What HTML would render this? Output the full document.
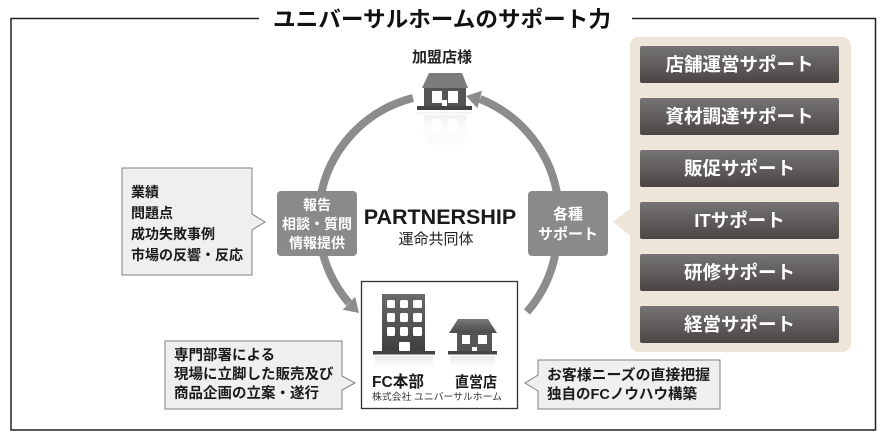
<!DOCTYPE html>
<html><head><meta charset="utf-8">
<style>
html,body{margin:0;padding:0;background:#fff;}
svg{display:block;}
text{font-family:"Liberation Sans","Noto Sans CJK JP",sans-serif;}
</style></head>
<body>
<svg width="883" height="439" viewBox="0 0 883 439" xmlns="http://www.w3.org/2000/svg">
<defs>
  <linearGradient id="btn" x1="0" y1="0" x2="0" y2="1">
    <stop offset="0" stop-color="#767474"/>
    <stop offset="1" stop-color="#4a4644"/>
  </linearGradient>
  <linearGradient id="bld" x1="0" y1="0" x2="0" y2="1">
    <stop offset="0" stop-color="#6a6a6a"/>
    <stop offset="1" stop-color="#3e3e3e"/>
  </linearGradient>
  <linearGradient id="hs" x1="0" y1="0" x2="0" y2="1">
    <stop offset="0" stop-color="#7a7a7a"/>
    <stop offset="1" stop-color="#4a4a4a"/>
  </linearGradient>
  <linearGradient id="refl" x1="0" y1="0" x2="0" y2="1">
    <stop offset="0" stop-color="#d8d8d8"/>
    <stop offset="1" stop-color="#ffffff"/>
  </linearGradient>
</defs>

<!-- frame -->
<path d="M259,18.5 H11 V430 H875.5 V18.5 H632" fill="none" stroke="#222" stroke-width="1.5"/>
<text x="442" y="27" font-size="22" font-weight="700" text-anchor="middle" fill="#111" textLength="338" lengthAdjust="spacingAndGlyphs">ユニバーサルホームのサポート力</text>

<!-- right panel -->
<rect x="630" y="37" width="221" height="315" rx="9" fill="#ece5d8"/>
<polygon points="613,222 632,207 632,237" fill="#ece5d8"/>
<g font-size="18.5" font-weight="700" fill="#fff" text-anchor="middle">
  <rect x="640" y="46" width="199" height="37" rx="2" fill="url(#btn)"/>
  <text x="739.5" y="71" textLength="148" lengthAdjust="spacingAndGlyphs">店舗運営サポート</text>
  <rect x="640" y="98" width="199" height="37" rx="2" fill="url(#btn)"/>
  <text x="739.5" y="123" textLength="148" lengthAdjust="spacingAndGlyphs">資材調達サポート</text>
  <rect x="640" y="150" width="199" height="37" rx="2" fill="url(#btn)"/>
  <text x="739.5" y="175">販促サポート</text>
  <rect x="640" y="202" width="199" height="37" rx="2" fill="url(#btn)"/>
  <text x="739.5" y="227">ITサポート</text>
  <rect x="640" y="254" width="199" height="37" rx="2" fill="url(#btn)"/>
  <text x="739.5" y="279">研修サポート</text>
  <rect x="640" y="306" width="199" height="37" rx="2" fill="url(#btn)"/>
  <text x="739.5" y="331">経営サポート</text>
</g>

<!-- arcs -->
<g fill="none" stroke="#8c8c8c" stroke-width="8">
  <path d="M320,200 A125,125 0 0 1 413,98"/>
  <path d="M558,200 A125,125 0 0 0 480,99"/>
  <path d="M322,250 A125,125 0 0 0 349,303"/>
  <path d="M556,250 A125,125 0 0 1 527,312"/>
</g>
<polygon points="466,96 482,90.7 477.4,108.1" fill="#8c8c8c"/>
<polygon points="359,313 355.2,296.8 342.8,309.8" fill="#8c8c8c"/>

<!-- top house (加盟店様) -->
<text x="442" y="62" font-size="15" font-weight="700" text-anchor="middle" fill="#222">加盟店様</text>
<g>
  <polygon points="429,73 462,73 468,88 422,88" fill="#7c7c7c"/>
  <rect x="424" y="88" width="42" height="19" fill="#555"/>
  <rect x="432" y="91" width="10" height="12" fill="#fff"/>
  <rect x="448" y="91" width="10" height="12" fill="#fff"/>
  <rect x="442" y="100" width="5" height="6" fill="#fff"/>
  <rect x="417" y="106" width="55" height="4" fill="#444"/>
</g>
<g opacity="0.35">
  <rect x="417" y="112" width="55" height="3" fill="url(#refl)"/>
  <rect x="424" y="115" width="42" height="18" fill="url(#refl)"/>
  <polygon points="422,133 468,133 462,145 429,145" fill="#f4f4f4"/>
</g>
<g fill="#fff"><rect x="432" y="119" width="10" height="11" opacity="0.8"/><rect x="448" y="119" width="10" height="11" opacity="0.8"/></g>

<!-- 報告 box -->
<rect x="277" y="191" width="80" height="65" rx="4" fill="#8a8a8a"/>
<g font-size="14" font-weight="700" fill="#fff" text-anchor="middle">
  <text x="317" y="210">報告</text>
  <text x="317" y="229">相談・質問</text>
  <text x="317" y="248">情報提供</text>
</g>

<!-- 各種 box -->
<rect x="528" y="191" width="80" height="65" rx="4" fill="#8a8a8a"/>
<g font-size="15" font-weight="700" fill="#fff" text-anchor="middle">
  <text x="568" y="219">各種</text>
  <text x="568" y="239">サポート</text>
</g>

<!-- center -->
<text x="440" y="224" font-size="21.5" font-weight="700" text-anchor="middle" fill="#1a1a1a">PARTNERSHIP</text>
<text x="436" y="244" font-size="15" text-anchor="middle" fill="#222">運命共同体</text>

<!-- left callout -->
<path d="M122,168 H252 V214 L265,222 L252,230 V275 H122 Z" fill="#efefef" stroke="#808080" stroke-width="1"/>
<g font-size="14" font-weight="700" fill="#1a1a1a">
  <text x="131" y="197">業績</text>
  <text x="131" y="218">問題点</text>
  <text x="131" y="239">成功失敗事例</text>
  <text x="131" y="260">市場の反響・反応</text>
</g>

<!-- FC box -->
<rect x="361.5" y="281.5" width="156" height="127" fill="#fff" stroke="#333" stroke-width="1.3"/>
<g>
  <rect x="382" y="294" width="43" height="58" fill="url(#bld)"/>
  <g fill="#fff">
    <rect x="387" y="300" width="8" height="8" rx="1.5"/><rect x="400" y="300" width="8" height="8" rx="1.5"/><rect x="413" y="300" width="9" height="8" rx="1.5"/>
    <rect x="387" y="313" width="8" height="9" rx="1.5"/><rect x="400" y="313" width="8" height="9" rx="1.5"/><rect x="413" y="313" width="9" height="9" rx="1.5"/>
    <rect x="387" y="327" width="8" height="9" rx="1.5"/><rect x="400" y="327" width="8" height="9" rx="1.5"/><rect x="413" y="327" width="9" height="9" rx="1.5"/>
    <rect x="399" y="342" width="11" height="9" rx="1"/>
  </g>
  <rect x="373" y="351" width="62" height="3.5" fill="#444"/>
  <rect x="375" y="356" width="58" height="10" fill="url(#refl)" opacity="0.6"/>

  <polygon points="458,319 488,319 497,333 449,333" fill="url(#hs)"/>
  <rect x="457" y="333" width="35" height="18" fill="#555"/>
  <rect x="462" y="335" width="8" height="9" fill="#fff"/>
  <rect x="478" y="335" width="9" height="9" fill="#fff"/>
  <rect x="472" y="347" width="5" height="5" fill="#fff"/>
  <rect x="448" y="351" width="49" height="3.5" fill="#444"/>
  <rect x="450" y="356" width="45" height="10" fill="url(#refl)" opacity="0.6"/>
</g>
<text x="372" y="387" font-size="16" font-weight="700" fill="#1a1a1a" textLength="52" lengthAdjust="spacingAndGlyphs">FC本部</text>
<text x="455" y="387" font-size="15" font-weight="700" fill="#1a1a1a" textLength="42" lengthAdjust="spacingAndGlyphs">直営店</text>
<text x="372" y="400" font-size="9.5" fill="#333" textLength="130" lengthAdjust="spacingAndGlyphs">株式会社 ユニバーサルホーム</text>

<!-- bottom-left callout -->
<path d="M165,341 H342 V376 L355,383 L342,390 V409 H165 Z" fill="#efefef" stroke="#808080" stroke-width="1"/>
<g font-size="14.5" font-weight="700" fill="#1a1a1a">
  <text x="174" y="360">専門部署による</text>
  <text x="174" y="379">現場に立脚した販売及び</text>
  <text x="174" y="398">商品企画の立案・遂行</text>
</g>

<!-- bottom-right callout -->
<path d="M538,360 H720 V409 H538 V391 L525,383 L538,375 Z" fill="#efefef" stroke="#808080" stroke-width="1"/>
<g font-size="14.5" font-weight="700" fill="#1a1a1a">
  <text x="547" y="380" textLength="163" lengthAdjust="spacingAndGlyphs">お客様ニーズの直接把握</text>
  <text x="547" y="399" textLength="150" lengthAdjust="spacingAndGlyphs">独自のFCノウハウ構築</text>
</g>
</svg>
</body></html>
